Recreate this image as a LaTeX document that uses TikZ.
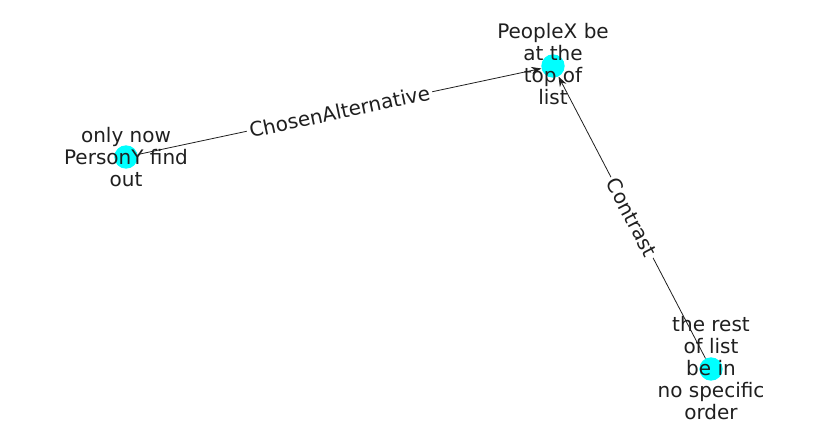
\documentclass[tikz,border=0pt]{standalone}
\usepackage{fontspec}
\setmainfont{DejaVu Sans}
\usetikzlibrary{arrows.meta}

\definecolor{nodecyan}{RGB}{0,255,255}

\tikzset{
  dot/.style={circle, fill=nodecyan, minimum size=17.5pt, inner sep=0pt},
  tag/.style={align=center, text=black!88, font=\fontsize{15}{16.5}\selectfont},
  rel/.style={-{Stealth[length=7.5pt, width=5.5pt]}, line width=0.6pt, black!88},
  rellabel/.style={sloped, fill=white, inner sep=2pt, text=black!88,
    font=\fontsize{15}{16.5}\selectfont}
}

\begin{document}
\begin{tikzpicture}[x=0.75pt, y=-0.75pt]
  \useasboundingbox (0,0) rectangle (837,434);

  \node[dot] (top) at (553,66) {};
  \node[dot] (only) at (126,157) {};
  \node[dot] (rest) at (711,369) {};

  \draw[rel] (only) -- node[rellabel] {ChosenAlternative} (top);
  \draw[rel] (rest) -- node[rellabel] {Contrast} (top);

  \node[tag] (toptext) at (553,64) {PeopleX be\\at the\\top of\\list};
  \node[tag] (onlytext) at (126,157) {only now\\PersonY find\\out};
  \node[tag] (resttext) at (711,368) {the rest\\of list\\be in\\no specific\\order};
\end{tikzpicture}
\end{document}
